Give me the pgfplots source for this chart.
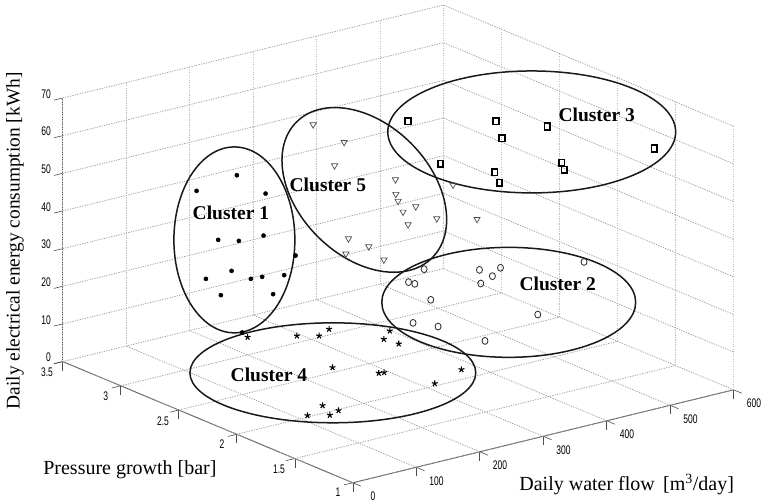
\documentclass[border=0pt]{standalone}
\usepackage{pgfplots}
\pgfplotsset{compat=1.18}
\usetikzlibrary{plotmarks}
\usepackage{fontspec}
\setmainfont{Liberation Serif}
\newfontfamily\tickfont{Liberation Sans}
\newcommand{\tl}[1]{\scalebox{.68}[1]{\tickfont\fontsize{12.5}{12.5}\selectfont #1}}
\tikzset{pix/.style={shift={(axis cs:0,1,0)},x=1pt,y=-1pt,shift={(-353,-483)}}}
\pgfplotsset{gridA/.style={gray!75,dash pattern=on 1.2pt off 1.3pt,line width=0.8pt,no marks,forget plot},
             gridB/.style={gray!50,dash pattern=on 1.2pt off 1.3pt,line width=0.8pt,no marks,forget plot}}
\begin{document}
\begin{tikzpicture}
\begin{axis}[
  disabledatascaling,
  x={(0.635pt,0.155pt)}, y={(-116.1pt,48.5pt)}, z={(0pt,3.767pt)},
  xmin=0,xmax=600,ymin=1,ymax=3.5,zmin=0,zmax=70,
  xtick={0,100,...,600}, ytick={1,1.5,...,3.5}, ztick={0,10,...,70},
  /pgf/number format/assume math mode=true,
  xticklabels={\tl{0}\hspace{19pt},\tl{100},\tl{200},\tl{300},\tl{400},\tl{500},\tl{600}},
  xticklabel style={anchor=center,inner sep=0pt,xshift=12pt,yshift=-10pt},
  yticklabel={\tl{\pgfmathprintnumber{\tick}}},
  zticklabel={\tl{\pgfmathprintnumber{\tick}}},
  axis x line*=bottom, axis y line*=left, axis z line*=left,
  axis line style={gray!70!black,line width=0.9pt,-},
  tick style={gray!60!black,line width=0.6pt},
  tick align=outside,
  major tick length=9pt,
  clip=false,
]
\path[pix] (0,0) rectangle (761,503);
% grid on the floor and the two back walls
\pgfplotsinvokeforeach{0,100,200,300,400,500,600}{
  \addplot3[gridA] coordinates {(#1,1,0)(#1,3.5,0)};
  \addplot3[gridB] coordinates {(#1,3.5,0)(#1,3.5,70)};
}
\pgfplotsinvokeforeach{1,1.5,2,2.5,3,3.5}{
  \addplot3[gridA] coordinates {(0,#1,0)(600,#1,0)};
  \addplot3[gridB] coordinates {(600,#1,0)(600,#1,70)};
}
\pgfplotsinvokeforeach{10,20,30,40,50,60,70}{
  \addplot3[gridA] coordinates {(0,3.5,#1)(600,3.5,#1)(600,1,#1)};
}
% Cluster 1
\addplot3[only marks,mark=*,mark size=2.1pt,black] coordinates {
(28.1,2.5,57.05)(91.6,2.5,58.6)(136.8,2.5,51.86)(62.1,2.5,42.64)(94.7,2.5,41.03)
(133.6,2.5,40.84)(42.8,2.5,33.08)(83.2,2.5,33.54)(113.6,2.5,30.17)(131.4,2.5,29.97)
(166.1,2.5,28.99)(66.4,2.5,27.78)(148.7,2.5,24.66)(184,2.5,33.46)(99.9,2.5,16.48)};
% Cluster 4
\addplot3[only marks,mark=star,mark size=3.1pt,black,mark options={line width=1.1pt}] coordinates {
(206.1,3.034,4)(258.3,2.895,4)(280.4,2.824,4)(306.3,2.880,4)(218.3,2.369,4)(251,2.149,4)
(257.8,2.140,4)(118,1.906,4)(79.2,1.824,4)(102.4,1.758,4)(121.9,1.790,4)(362.5,2.664,4)
(336.8,2.575,4)(340.6,2.467,4)(341.7,1.933,4)(281.9,1.836,4)};
% Cluster 2
\addplot3[only marks,mark=o,mark size=3pt,black!85,mark options={line width=0.8pt,yscale=1.15}] coordinates {
(444.9,2.819,15)(398.6,2.700,15)(400.8,2.658,15)(498.3,2.634,15)(496.2,2.511,15)
(524.1,2.594,15)(467.1,2.452,15)(378.6,2.399,15)(531.6,1.915,25)(449.9,1.867,15)
(306.1,2.155,15)(322.3,2.028,15)(334.8,1.692,15)};
% Cluster 3
\addplot3[only marks,mark=square,mark size=2.8pt,black,mark options={line width=1.7pt,yscale=1.2,rounded corners=0.8pt}] coordinates {
(467.4,3.080,50)(555,2.801,50)(520.5,2.561,50)(593.1,2.567,50)(557.6,1.451,60)
(398.1,2.422,50)(432.3,2.141,50)(411.5,1.987,50)(520.9,2.049,50)(507.1,1.950,50)};
% Cluster 5
\addplot3[only marks,mark=triangle,mark size=3.6pt,black!70,mark options={rotate=180,line width=0.7pt}] coordinates {
(320.2,3.093,55)(309,2.765,55)(288.6,2.736,50)(360.8,2.606,45)(326.5,2.415,45)(312,2.316,45)
(336.2,2.406,40)(361.4,2.434,40)(311,2.225,40)(353.9,2.212,40)(392.4,2.076,40)(360.5,2.108,50)
(308,2.722,30)(309.3,2.554,30)(269.1,2.532,30)(292.6,2.333,30)};
% ellipses
\draw[pix,black!90,line width=1.5pt] (234.5,240) ellipse [x radius=60.5,y radius=93];
\draw[pix,black!90,line width=1.5pt] (364.5,190) ellipse [x radius=96,y radius=66,rotate=-45];
\draw[pix,black!90,line width=1.5pt] (532,132) ellipse [x radius=144,y radius=61];
\draw[pix,black!90,line width=1.5pt] (509,302.5) ellipse [x radius=127,y radius=55];
\draw[pix,black!90,line width=1.5pt] (333,373) ellipse [x radius=143,y radius=50];
% texts
\path[pix] (231,213) node[font=\fontsize{19.5}{19.5}\selectfont\bfseries]{Cluster 1};
\path[pix] (328,185) node[font=\fontsize{19.5}{19.5}\selectfont\bfseries]{Cluster 5};
\path[pix] (597,115) node[font=\fontsize{19.5}{19.5}\selectfont\bfseries]{Cluster 3};
\path[pix] (558,284) node[font=\fontsize{19.5}{19.5}\selectfont\bfseries]{Cluster 2};
\path[pix] (269,375) node[font=\fontsize{19.5}{19.5}\selectfont\bfseries]{Cluster 4};
\path[pix] (15,241) node[rotate=90,font=\fontsize{19.4}{19.4}\selectfont]{Daily electrical energy consumption [kWh]};
\path[pix] (130,470) node[font=\fontsize{20}{20}\selectfont]{Pressure growth [bar]};
\path[pix] (627,485) node[font=\fontsize{20}{20}\selectfont]{Daily water flow\, [m\textsuperscript{3}/day]};
\end{axis}
\end{tikzpicture}
\end{document}
